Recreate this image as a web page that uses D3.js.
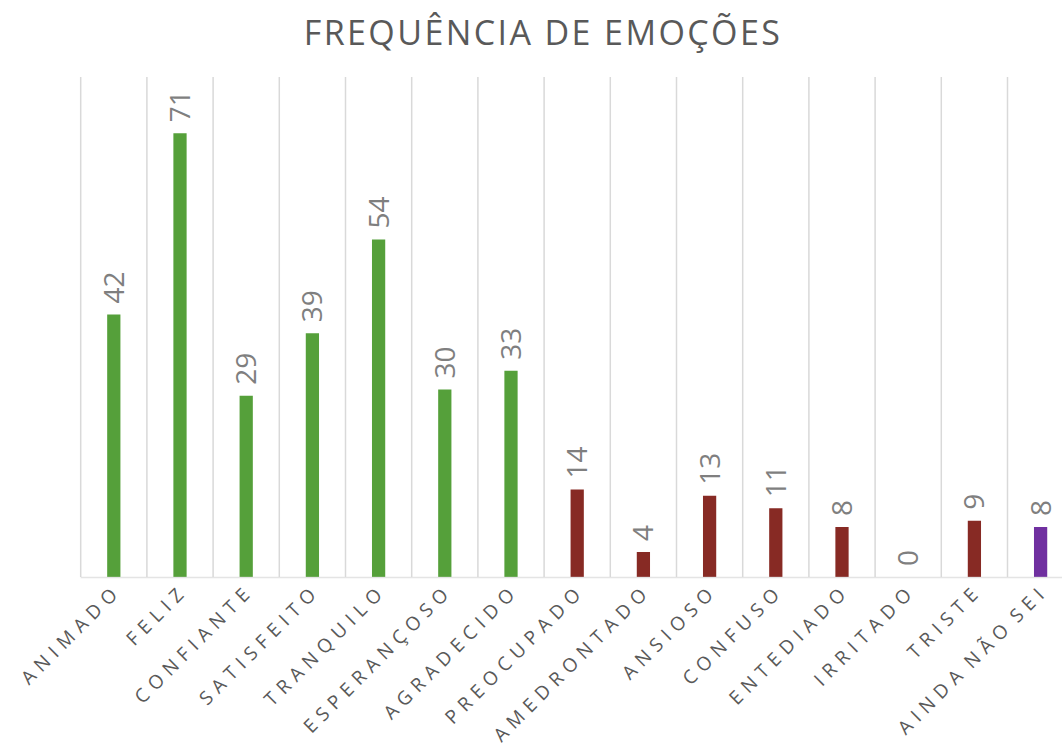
<!DOCTYPE html>
<html>
<head>
  <meta charset="utf-8">
  <title>Frequência de emoções</title>
  <style>
    body { margin: 0; background: #fff; }
    svg { display: block; font-family: "Open Sans", sans-serif; }
  </style>
</head>
<body>
  <div id="chart"></div>

  <script src="https://cdn.jsdelivr.net/npm/d3@7"></script>
  <script type="text/javascript">

  var categories = ['ANIMADO', 'FELIZ', 'CONFIANTE', 'SATISFEITO', 'TRANQUILO', 'ESPERANÇOSO',
                    'AGRADECIDO', 'PREOCUPADO', 'AMEDRONTADO', 'ANSIOSO', 'CONFUSO', 'ENTEDIADO',
                    'IRRITADO', 'TRISTE', 'AINDA NÃO SEI'];
  var values = [42, 71, 29, 39, 54, 30, 33, 14, 4, 13, 11, 8, 0, 9, 8];
  // group of each emotion: positiva / negativa / indefinida
  var groups = ['pos', 'pos', 'pos', 'pos', 'pos', 'pos', 'pos',
                'neg', 'neg', 'neg', 'neg', 'neg', 'neg', 'neg', 'ind'];

  var width = 1062, height = 743;
  var plotLeft = 80.7, step = 66.2;
  var plotTop = 77, plotBottom = 577;

  var colors = {pos: '#55a03a', neg: '#872a24', ind: '#7030a0'};

  var svg = d3.select('#chart')
              .append('svg')
              .attr('width', width)
              .attr('height', height);

  var x = d3.scaleBand()
            .domain(categories)
            .range([plotLeft, plotLeft + step * categories.length])
            .paddingInner(0.8)
            .paddingOuter(0.4);

  var y = d3.scaleLinear()
            .domain([0, 80])
            .range([plotBottom, plotTop]);

  // title
  svg.append('text')
     .attr('x', 543)
     .attr('y', 45)
     .attr('text-anchor', 'middle')
     .style('font-size', '34px')
     .style('letter-spacing', '2.4px')
     .style('fill', '#595959')
     .text('FREQUÊNCIA DE EMOÇÕES');

  // vertical gridlines between categories
  svg.append('g')
     .selectAll('line')
     .data(d3.range(categories.length + 1))
     .enter().append('line')
     .attr('x1', function(i){ return x.range()[0] + i * x.step(); })
     .attr('x2', function(i){ return x.range()[0] + i * x.step(); })
     .attr('y1', y.range()[1])
     .attr('y2', y.range()[0])
     .style('stroke', '#d9d9d9')
     .style('stroke-width', 1.5);

  // bars
  svg.append('g')
     .selectAll('rect')
     .data(values)
     .enter().append('rect')
     .attr('x', function(d, i){ return x(categories[i]); })
     .attr('y', function(d){ return y(d); })
     .attr('width', x.bandwidth())
     .attr('height', function(d){ return y(0) - y(d); })
     .style('fill', function(d, i){ return colors[groups[i]]; });

  // baseline
  svg.append('line')
     .attr('x1', x.range()[0])
     .attr('x2', width)
     .attr('y1', y(0) + 0.5)
     .attr('y2', y(0) + 0.5)
     .style('stroke', '#d9d9d9')
     .style('stroke-width', 1.5)
     .style('opacity', 0.7);

  // value labels, rotated
  svg.append('g')
     .selectAll('text')
     .data(values)
     .enter().append('text')
     .attr('transform', function(d, i){
       var cx = x(categories[i]) + x.bandwidth() / 2;
       return 'translate(' + cx + ',' + (y(d) - 11) + ') rotate(-90)';
     })
     .attr('dy', '0.36em')
     .style('font-size', '28px')
     .style('fill', '#7f7f7f')
     .text(function(d){ return d; });

  // category labels at 45 degrees
  svg.append('g')
     .selectAll('text')
     .data(categories)
     .enter().append('text')
     .attr('transform', function(d){
       var cx = x(d) + x.bandwidth() / 2;
       return 'translate(' + (cx + 9) + ',' + (plotBottom + 15) + ') rotate(-45)';
     })
     .attr('text-anchor', 'end')
     .style('font-size', '19px')
     .style('letter-spacing', '6.2px')
     .style('word-spacing', '-6px')
     .style('fill', '#595959')
     .text(function(d){ return d; });

  </script>
</body>
</html>
